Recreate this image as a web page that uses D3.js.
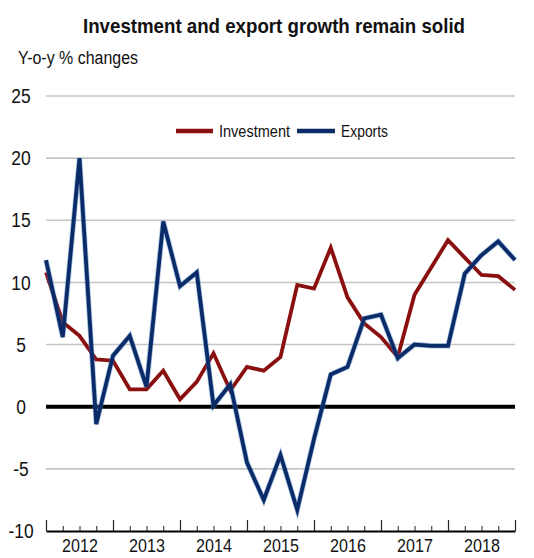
<!DOCTYPE html>
<html>
<head>
<meta charset="utf-8">
<script src="https://cdn.jsdelivr.net/npm/d3@7"></script>
<style>
  html, body { margin: 0; padding: 0; background: #fff; }
  svg { display: block; font-family: "Liberation Sans", Arial, sans-serif; }
</style>
</head>
<body>
<svg id="chart" width="534" height="558"></svg>
<script>
// Quarterly periods, year-on-year % changes
const periods = [
  "2012Q1","2012Q2","2012Q3","2012Q4",
  "2013Q1","2013Q2","2013Q3","2013Q4",
  "2014Q1","2014Q2","2014Q3","2014Q4",
  "2015Q1","2015Q2","2015Q3","2015Q4",
  "2016Q1","2016Q2","2016Q3","2016Q4",
  "2017Q1","2017Q2","2017Q3","2017Q4",
  "2018Q1","2018Q2","2018Q3","2018Q4",
  "2019Q1"
];
const investment = [10.8, 6.8, 5.7, 3.8, 3.7, 1.4, 1.4, 2.9, 0.6, 2.0, 4.3, 1.3, 3.2, 2.9, 4.0, 9.8,
                    9.5, 12.8, 8.8, 6.7, 5.6, 4.0, 9.0, 11.2, 13.4, 12.0, 10.6, 10.5, 9.4];
const exportsGrowth = [11.8, 5.6, 20.0, -1.4, 4.1, 5.7, 1.6, 14.9, 9.7, 10.8, 0.1, 1.8, -4.5, -7.5, -3.9, -8.3,
                       -2.6, 2.6, 3.2, 7.1, 7.4, 3.9, 5.0, 4.9, 4.9, 10.7, 12.2, 13.3, 11.8];
const yTicks = [25, 20, 15, 10, 5, 0, -5, -10];
const yearLabels = [2012, 2013, 2014, 2015, 2016, 2017, 2018];

const seriesNames = ["Investment", "Exports"];
const seriesColors = ["#8a0f0f", "#0b2a68"];

const svg = d3.select("#chart");
const condense = 0.87;

// Squeeze text horizontally to a narrow face
function narrow(sel, factor) {
  sel.each(function () {
    const w = this.getComputedTextLength();
    this.setAttribute("textLength", (w * factor).toFixed(1));
    this.setAttribute("lengthAdjust", "spacingAndGlyphs");
  });
}

const toYear = p => +p.slice(0, 4) + (+p.slice(5) - 1) / 4;

const x = d3.scaleLinear().domain([2012, 2019]).range([46, 515]);
const y = d3.scaleLinear().domain([-10, 25]).range([531, 96]);

// Title
svg.append("text")
  .attr("x", 274).attr("y", 33)
  .attr("text-anchor", "middle")
  .attr("font-size", 21).attr("font-weight", "bold").attr("fill", "#111")
  .attr("textLength", 382).attr("lengthAdjust", "spacingAndGlyphs")
  .text("Investment and export growth remain solid");

// Unit label
svg.append("text")
  .attr("x", 18).attr("y", 64)
  .attr("font-size", 18).attr("fill", "#111")
  .attr("textLength", 120).attr("lengthAdjust", "spacingAndGlyphs")
  .text("Y-o-y % changes");

// Horizontal grid
svg.append("g").selectAll("line")
  .data(yTicks.filter(v => v !== 0 && v !== -10))
  .join("line")
  .attr("x1", x(2012)).attr("x2", x(2019))
  .attr("y1", d => y(d)).attr("y2", d => y(d))
  .attr("stroke", "#c4c4c4").attr("stroke-width", 1.6);

// Y tick labels
svg.append("g").selectAll("text")
  .data(yTicks)
  .join("text")
  .attr("x", 21).attr("y", d => y(d)).attr("dy", "0.36em")
  .attr("text-anchor", "middle")
  .attr("font-size", 20).attr("fill", "#111")
  .text(d => d)
  .call(narrow, condense);

// Zero line
svg.append("line")
  .attr("x1", x(2012)).attr("x2", x(2019))
  .attr("y1", y(0)).attr("y2", y(0))
  .attr("stroke", "#000").attr("stroke-width", 4);

// X axis: quarter ticks, year ticks, year labels
const quarterTicks = d3.range(0, 29).map(i => 2012 + i / 4);
svg.append("g")
  .attr("transform", `translate(0,${y(-10)})`)
  .call(d3.axisBottom(x).tickValues(quarterTicks).tickSize(-5).tickSizeOuter(0).tickFormat(""))
  .call(g => g.select(".domain").attr("stroke", "#000").attr("stroke-width", 2))
  .call(g => g.selectAll(".tick line").attr("stroke", "#222").attr("stroke-width", 1));
svg.append("g")
  .attr("transform", `translate(0,${y(-10)})`)
  .call(d3.axisBottom(x).tickValues(d3.range(2012, 2020)).tickSize(-11).tickSizeOuter(0).tickFormat(""))
  .call(g => g.select(".domain").remove())
  .call(g => g.selectAll(".tick line").attr("stroke", "#222").attr("stroke-width", 1.2));
svg.append("g")
  .attr("transform", `translate(0,${y(-10)})`)
  .call(d3.axisBottom(x).tickValues(yearLabels.map(v => v + 0.5)).tickSize(0).tickPadding(8)
    .tickFormat(d => String(Math.floor(d))))
  .call(g => g.select(".domain").remove())
  .call(g => g.selectAll("text").attr("font-size", 18.5).attr("fill", "#111")
    .attr("font-family", "'Liberation Sans', Arial, sans-serif"))
  .call(g => narrow(g.selectAll("text"), condense));

// Series lines
const line = d3.line()
  .x((d, i) => x(toYear(periods[i])))
  .y(d => y(d));

svg.append("path")
  .datum(investment)
  .attr("fill", "none").attr("stroke", seriesColors[0])
  .attr("stroke-width", 3.8).attr("stroke-linejoin", "miter")
  .attr("d", line);

svg.append("path")
  .datum(exportsGrowth)
  .attr("fill", "none").attr("stroke", "#3f7bbd").attr("stroke-opacity", 0.45)
  .attr("stroke-width", 5.4).attr("stroke-linejoin", "miter")
  .attr("d", line);
svg.append("path")
  .datum(exportsGrowth)
  .attr("fill", "none").attr("stroke", seriesColors[1])
  .attr("stroke-width", 3.8).attr("stroke-linejoin", "miter")
  .attr("d", line);

// Legend
const legendItems = [
  { name: seriesNames[0], color: seriesColors[0], x0: 176, x1: 213, tx: 219, tl: 71 },
  { name: seriesNames[1], color: seriesColors[1], x0: 297, x1: 335, tx: 341, tl: 47 }
];
const legend = svg.append("g");
legend.selectAll("line")
  .data(legendItems)
  .join("line")
  .attr("x1", d => d.x0).attr("x2", d => d.x1)
  .attr("y1", 131).attr("y2", 131)
  .attr("stroke", d => d.color).attr("stroke-width", 4.5);
legend.selectAll("text")
  .data(legendItems)
  .join("text")
  .attr("x", d => d.tx).attr("y", 137)
  .attr("font-size", 16).attr("fill", "#111")
  .attr("textLength", d => d.tl).attr("lengthAdjust", "spacingAndGlyphs")
  .text(d => d.name);
</script>
</body>
</html>
